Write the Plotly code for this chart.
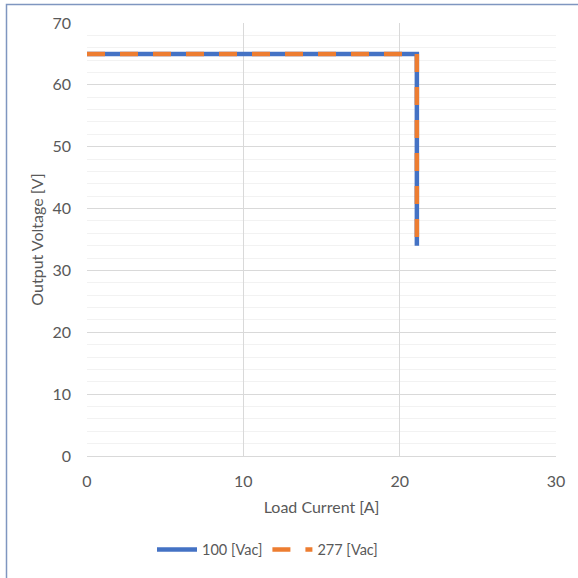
import plotly.graph_objects as go

current_100 = [0, 5, 10, 15, 20, 21.1, 21.1, 21.1]
voltage_100 = [65, 65, 65, 65, 65, 65, 50, 34]
current_277 = [0, 5, 10, 15, 20, 21.1, 21.1, 21.1]
voltage_277 = [65, 65, 65, 65, 65, 65, 50, 34]
series_names = ["100 [Vac]", "277 [Vac]"]

FONT = "Lato, Calibri, Carlito, sans-serif"
fig = go.Figure()
fig.add_trace(go.Scatter(x=current_100, y=voltage_100, mode="lines", name=series_names[0],
                         line=dict(color="#4472C4", width=4.5)))
fig.add_trace(go.Scatter(x=current_277, y=voltage_277, mode="lines", name=series_names[1],
                         line=dict(color="#ED7D31", width=4.5, dash="18px,15px")))

L, R, T, B = 87, 22, 23, 120
W = H = 578
pw, ph = W - L - R, H - T - B
fig.update_layout(
    width=W, height=H, margin=dict(l=L, r=R, t=T, b=B),
    paper_bgcolor="white", plot_bgcolor="white",
    font=dict(family=FONT, size=16, color="#595959"),
    showlegend=True,
    legend=dict(orientation="h", x=(152 - L) / pw, xanchor="left", y=(458 - 552) / ph, yanchor="middle",
                font=dict(size=14.5, color="#595959"), itemwidth=40, bgcolor="rgba(0,0,0,0)"),
    xaxis=dict(range=[0, 30], dtick=10, showgrid=True, gridcolor="#D9D9D9", gridwidth=1,
               zeroline=False, showline=True, linecolor="#D9D9D9", mirror=False,
               ticks="", ticklabelstandoff=11,
               title=dict(text="Load Current [A]", font=dict(size=16, color="#595959"), standoff=12)),
    yaxis=dict(range=[0, 70], dtick=10, showgrid=True, gridcolor="#D9D9D9", gridwidth=1,
               minor=dict(dtick=2, showgrid=True, gridcolor="#F2F2F2", gridwidth=1),
               zeroline=False, showline=False, ticks="", ticklabelstandoff=15,
               title=dict(text="Output Voltage [V]", font=dict(size=16, color="#595959"), standoff=4)),
)
left_x = (6.5 - L) / pw
top_y = (458 - 4.5) / ph
fig.add_shape(type="path", xref="paper", yref="paper",
              path=f"M {left_x},{(458 - 585) / ph} L {left_x},{top_y} L {(585 - L) / pw},{top_y}",
              line=dict(color="#7F96C0", width=1.5), layer="above")
fig.write_html("out.html", post_script="document.body.style.margin='0';",
               config={"displayModeBar": False})
